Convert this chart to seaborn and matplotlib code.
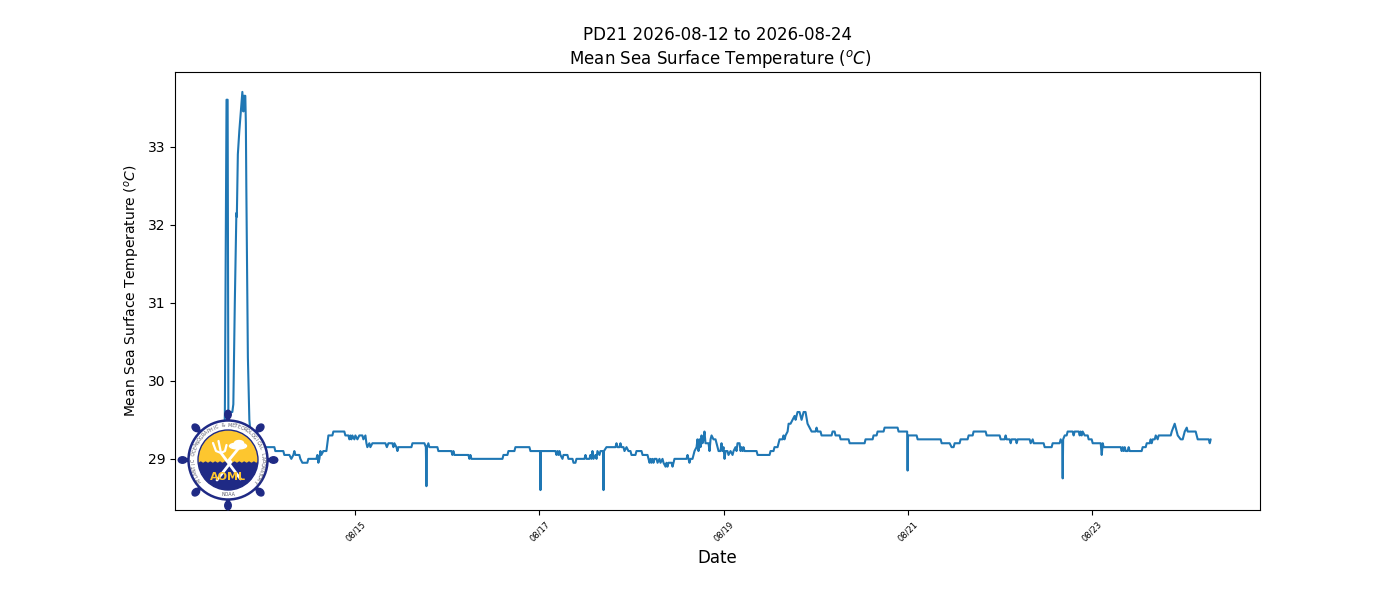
import matplotlib
matplotlib.use('Agg')
import matplotlib.pyplot as plt
import matplotlib.dates as mdates
from matplotlib.patches import Circle, Ellipse
import seaborn as sb
import numpy as np
import pandas as pd

# day of August 2026 (fraction of day)
days = [
    13.576, 13.582, 13.600, 13.612, 13.620, 13.663, 13.674, 13.690, 13.707, 13.712,
    13.723, 13.739, 13.756, 13.772, 13.783, 13.788, 13.804, 13.810, 13.815, 13.832,
    13.848, 13.870, 13.978, 14.0, 14.120, 14.130, 14.217, 14.228, 14.283, 14.304,
    14.326, 14.337, 14.348, 14.391, 14.402, 14.424, 14.478, 14.489, 14.576, 14.587,
    14.598, 14.609, 14.620, 14.630, 14.652, 14.685, 14.696, 14.707, 14.750, 14.761,
    14.880, 14.891, 14.924, 14.935, 14.946, 14.957, 14.967, 14.989, 15.0, 15.022,
    15.043, 15.076, 15.087, 15.109, 15.120, 15.130, 15.152, 15.163, 15.185, 15.326,
    15.342, 15.359, 15.402, 15.413, 15.424, 15.446, 15.457, 15.467, 15.609, 15.620,
    15.750, 15.766, 15.772, 15.778, 15.793, 15.804, 15.891, 15.902, 16.043, 16.054,
    16.065, 16.076, 16.228, 16.239, 16.250, 16.261, 16.598, 16.609, 16.652, 16.663,
    16.728, 16.739, 16.891, 16.902, 17.006, 17.011, 17.016, 17.174, 17.185, 17.196,
    17.207, 17.217, 17.228, 17.250, 17.261, 17.304, 17.315, 17.359, 17.370, 17.391,
    17.402, 17.489, 17.500, 17.511, 17.543, 17.554, 17.565, 17.576, 17.587, 17.609,
    17.620, 17.630, 17.652, 17.663, 17.691, 17.696, 17.701, 17.728, 17.826, 17.837,
    17.848, 17.870, 17.880, 17.891, 17.913, 17.924, 17.946, 17.967, 17.989, 18.0,
    18.043, 18.054, 18.109, 18.120, 18.174, 18.185, 18.196, 18.207, 18.217, 18.228,
    18.239, 18.250, 18.272, 18.283, 18.304, 18.315, 18.337, 18.348, 18.370, 18.380,
    18.391, 18.402, 18.435, 18.446, 18.457, 18.467, 18.598, 18.609, 18.620, 18.630,
    18.641, 18.663, 18.674, 18.685, 18.707, 18.717, 18.728, 18.739, 18.750, 18.761,
    18.772, 18.783, 18.793, 18.804, 18.837, 18.848, 18.859, 18.870, 18.891, 18.913,
    18.924, 18.935, 18.946, 18.967, 18.978, 18.989, 19.0, 19.011, 19.022, 19.043,
    19.054, 19.076, 19.098, 19.109, 19.130, 19.141, 19.152, 19.174, 19.185, 19.196,
    19.207, 19.217, 19.228, 19.359, 19.370, 19.5, 19.511, 19.543, 19.554, 19.587,
    19.598, 19.609, 19.641, 19.652, 19.663, 19.674, 19.696, 19.707, 19.728, 19.750,
    19.772, 19.783, 19.804, 19.826, 19.848, 19.870, 19.891, 19.913, 19.935, 19.957,
    20.0, 20.011, 20.022, 20.054, 20.065, 20.174, 20.185, 20.207, 20.217, 20.261,
    20.272, 20.359, 20.370, 20.533, 20.543, 20.620, 20.630, 20.663, 20.674, 20.739,
    20.750, 20.891, 20.902, 20.995, 21.0, 21.005, 21.098, 21.109, 21.359, 21.370,
    21.457, 21.478, 21.5, 21.511, 21.565, 21.576, 21.652, 21.663, 21.707, 21.717,
    21.848, 21.859, 22.0, 22.011, 22.054, 22.065, 22.076, 22.109, 22.120, 22.130,
    22.174, 22.185, 22.196, 22.326, 22.337, 22.359, 22.370, 22.478, 22.489, 22.565,
    22.576, 22.652, 22.663, 22.680, 22.685, 22.690, 22.707, 22.728, 22.739, 22.793,
    22.804, 22.815, 22.859, 22.870, 22.880, 22.891, 22.902, 22.924, 22.957, 22.967,
    23.0, 23.011, 23.098, 23.109, 23.120, 23.130, 23.315, 23.326, 23.337, 23.348,
    23.359, 23.370, 23.391, 23.402, 23.413, 23.543, 23.554, 23.587, 23.598, 23.630,
    23.641, 23.652, 23.663, 23.685, 23.696, 23.717, 23.728, 23.750, 23.859, 23.870,
    23.902, 23.913, 23.935, 23.967, 23.989, 24.011, 24.033, 24.043, 24.130, 24.152,
    24.272, 24.283, 24.293,
]

# mean sea surface temperature (deg C)
temps = [
    29.2, 29.6, 33.6, 33.6, 29.6, 29.6, 29.7, 31.0, 32.15, 32.1,
    32.9, 33.2, 33.45, 33.7, 33.45, 33.65, 33.65, 33.3, 32.5, 30.3,
    29.5, 29.2, 29.2, 29.15, 29.15, 29.1, 29.1, 29.05, 29.05, 29.0,
    29.05, 29.1, 29.05, 29.05, 29.0, 28.95, 28.95, 29.0, 29.0, 29.05,
    28.95, 29.0, 29.1, 29.05, 29.1, 29.1, 29.2, 29.3, 29.3, 29.35,
    29.35, 29.3, 29.3, 29.25, 29.3, 29.25, 29.3, 29.25, 29.3, 29.25,
    29.3, 29.3, 29.25, 29.3, 29.2, 29.15, 29.2, 29.15, 29.2, 29.2,
    29.15, 29.2, 29.2, 29.15, 29.2, 29.15, 29.1, 29.15, 29.15, 29.2,
    29.2, 29.15, 28.65, 29.15, 29.2, 29.15, 29.15, 29.1, 29.1, 29.05,
    29.1, 29.05, 29.05, 29.0, 29.05, 29.0, 29.0, 29.05, 29.05, 29.1,
    29.1, 29.15, 29.15, 29.1, 29.1, 28.6, 29.1, 29.1, 29.05, 29.1,
    29.05, 29.1, 29.05, 29.0, 29.05, 29.05, 29.0, 29.0, 28.95, 28.95,
    29.0, 29.0, 29.05, 29.0, 29.0, 29.05, 29.0, 29.1, 29.0, 29.05,
    29.0, 29.1, 29.05, 29.1, 29.1, 28.6, 29.1, 29.15, 29.15, 29.2,
    29.15, 29.15, 29.2, 29.15, 29.15, 29.1, 29.15, 29.1, 29.1, 29.05,
    29.05, 29.1, 29.1, 29.05, 29.05, 29.0, 28.95, 29.0, 28.95, 29.0,
    28.95, 29.0, 29.0, 28.95, 29.0, 28.95, 29.0, 28.95, 28.9, 28.95,
    28.9, 28.95, 28.95, 28.9, 28.95, 29.0, 29.0, 29.05, 29.0, 28.95,
    29.0, 29.0, 29.05, 29.1, 29.15, 29.25, 29.1, 29.25, 29.15, 29.3,
    29.2, 29.25, 29.35, 29.2, 29.2, 29.1, 29.25, 29.3, 29.25, 29.25,
    29.2, 29.15, 29.1, 29.1, 29.2, 29.1, 29.15, 29.0, 29.1, 29.1,
    29.05, 29.1, 29.05, 29.1, 29.15, 29.1, 29.2, 29.2, 29.1, 29.15,
    29.1, 29.15, 29.1, 29.1, 29.05, 29.05, 29.1, 29.1, 29.15, 29.15,
    29.2, 29.25, 29.25, 29.3, 29.25, 29.3, 29.35, 29.45, 29.45, 29.5,
    29.55, 29.5, 29.6, 29.6, 29.5, 29.6, 29.6, 29.45, 29.4, 29.35,
    29.35, 29.4, 29.35, 29.35, 29.3, 29.3, 29.35, 29.35, 29.3, 29.3,
    29.25, 29.25, 29.2, 29.2, 29.25, 29.25, 29.3, 29.3, 29.35, 29.35,
    29.4, 29.4, 29.35, 29.35, 28.85, 29.3, 29.3, 29.25, 29.25, 29.2,
    29.2, 29.15, 29.15, 29.2, 29.2, 29.25, 29.25, 29.3, 29.3, 29.35,
    29.35, 29.3, 29.3, 29.25, 29.25, 29.3, 29.25, 29.25, 29.2, 29.25,
    29.25, 29.2, 29.25, 29.25, 29.2, 29.25, 29.2, 29.2, 29.15, 29.15,
    29.2, 29.2, 29.25, 29.2, 28.75, 29.25, 29.3, 29.3, 29.35, 29.35,
    29.3, 29.35, 29.35, 29.3, 29.35, 29.3, 29.35, 29.3, 29.3, 29.25,
    29.25, 29.2, 29.2, 29.05, 29.2, 29.15, 29.15, 29.1, 29.15, 29.1,
    29.15, 29.1, 29.1, 29.15, 29.1, 29.1, 29.15, 29.15, 29.2, 29.2,
    29.25, 29.2, 29.25, 29.25, 29.3, 29.25, 29.3, 29.3, 29.3, 29.35,
    29.45, 29.4, 29.3, 29.25, 29.25, 29.35, 29.4, 29.35, 29.35, 29.25,
    29.25, 29.2, 29.25,
]

# the leading space nudges the second line to the right, as in the original
title_text = 'PD21 2026-08-12 to 2026-08-24\n Mean Sea Surface Temperature ($^oC$)'
ylabel_text = 'Mean Sea Surface Temperature ($^oC$)'
xlabel_text = 'Date'
ring_text = 'ATLANTIC OCEANOGRAPHIC & METEOROLOGICAL LABORATORY'

NAVY = '#1f2a85'
GOLD = '#fdc62f'

sb.set_style('ticks', {'axes.edgecolor': 'black', 'text.color': 'black',
                       'xtick.color': 'black', 'ytick.color': 'black',
                       'axes.labelcolor': 'black'})
plt.rcParams['font.family'] = ['DejaVu Sans']


def draw_logo(f, cx=228, cy=460, half=52):
    # the logo is drawn in an axes measured in screen pixels around its centre
    ax = f.add_axes([(cx - half) / 1400, 1 - (cy + half) / 600,
                     2 * half / 1400, 2 * half / 600], zorder=5)
    ax.set_xlim(-half, half)
    ax.set_ylim(-half, half)
    ax.axis('off')

    # wheel spokes and knobs
    for a in np.arange(0, 360, 45):
        t = np.radians(a)
        ax.plot([37 * np.cos(t), 46 * np.cos(t)], [37 * np.sin(t), 46 * np.sin(t)],
                color=NAVY, lw=3, zorder=1)
        ax.add_patch(Ellipse((45.5 * np.cos(t), 45.5 * np.sin(t)), 8.5, 6.5, angle=a,
                             color=NAVY, zorder=1))

    ax.add_patch(Circle((0, 0), 39.5, fc='white', ec=NAVY, lw=1.8, zorder=2))
    disc = Circle((0, 0), 30, fc=GOLD, ec=NAVY, lw=1, zorder=3)
    ax.add_patch(disc)

    # sea in the lower half, with small waves on top
    wx = np.linspace(-31, 31, 200)
    wy = -1.5 + 0.6 * np.sin(wx * 1.3)
    sea = ax.fill_between(wx, -31, wy, color=NAVY, lw=0, zorder=4)
    sea.set_clip_path(disc)

    # trident
    ax.plot([12.5, -7], [-19, 7], color='white', lw=2, zorder=5, solid_capstyle='round')
    ax.plot([-15, -12, -7, -3, -1.5], [17, 9, 7, 9, 15], color='white', lw=1.6, zorder=5)
    ax.plot([-9.5, -7], [19, 7], color='white', lw=1.6, zorder=5)

    # cloud and lightning bolt
    ax.plot([-11, 3, 1, 10], [-20, -2, 0, 11], color='white', lw=2, zorder=5)
    ax.add_patch(Ellipse((10, 14), 17, 6, color='white', zorder=5))
    ax.add_patch(Ellipse((11, 17), 9, 5, color='white', zorder=5))

    ax.text(0, -17.5, 'AOML', color=GOLD, fontsize=8, fontweight='bold',
            ha='center', va='center', zorder=6)

    # ring lettering, one character at a time round the wheel
    angles = np.linspace(217, -37, len(ring_text))
    for ch, a in zip(ring_text, angles):
        t = np.radians(a)
        ax.text(34.7 * np.cos(t), 34.7 * np.sin(t), ch, fontsize=3.4, color='#555566',
                rotation=a - 90, rotation_mode='anchor', ha='center', va='center',
                zorder=6)
    ax.text(0, -34.7, 'NOAA', fontsize=3.4, color='#555566', ha='center', va='center',
            zorder=6)


df = pd.DataFrame({'day': days, 'temp': temps})
df['date'] = pd.Timestamp('2026-08-01') + pd.to_timedelta(df['day'] - 1, unit='D')

f = plt.figure(figsize=(14, 6), dpi=100)
ax = f.add_subplot(1, 1, 1)
f.subplots_adjust(left=0.125, right=0.9, top=0.88, bottom=0.15)

sb.lineplot(data=df, x='date', y='temp', ax=ax, color='#1f77b4', linewidth=1.5,
            estimator=None, sort=False)

ax.set_title(title_text, fontsize=12)
ax.set_xlabel(xlabel_text, fontsize=12)
ax.set_ylabel(ylabel_text, fontsize=10)
ax.xaxis.set_major_locator(mdates.DayLocator(bymonthday=range(1, 32, 2)))
ax.xaxis.set_major_formatter(mdates.DateFormatter('%m/%d'))
ax.tick_params(axis='x', labelsize=6, labelrotation=45)
ax.tick_params(axis='y', labelsize=10)
ax.set_yticks([29, 30, 31, 32, 33])

draw_logo(f)

f.savefig('out.png', dpi=100)
